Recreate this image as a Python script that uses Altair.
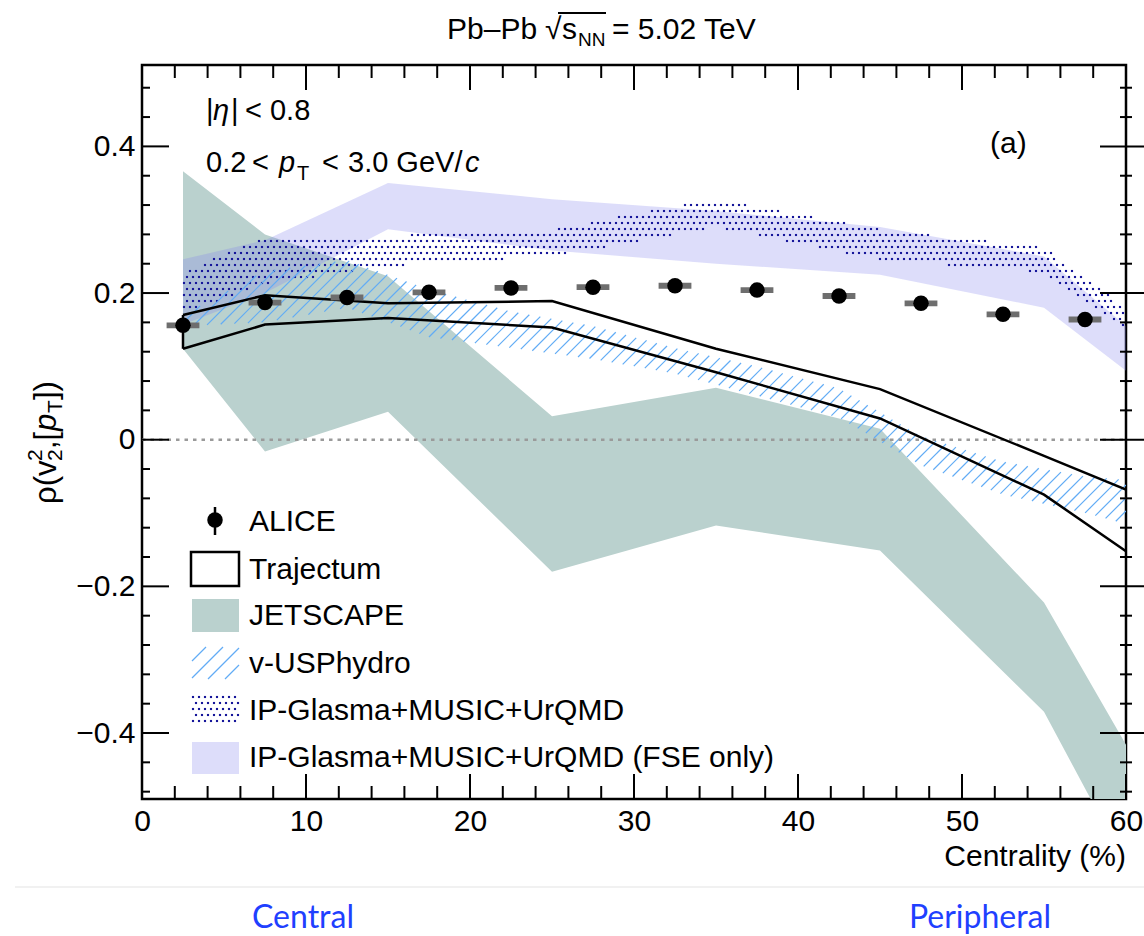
import altair as alt
import numpy as np
import pandas as pd

# ---------------- data ----------------
alice_cent = [2.5, 7.5, 12.5, 17.5, 22.5, 27.5, 32.5, 37.5, 42.5, 47.5, 52.5, 57.5]
alice_rho = [0.156, 0.187, 0.194, 0.201, 0.207, 0.208, 0.210, 0.204, 0.196, 0.186, 0.171, 0.164]
alice_stat = [0.005, 0.004, 0.004, 0.004, 0.004, 0.004, 0.004, 0.004, 0.004, 0.005, 0.005, 0.006]
alice_syst = [0.004, 0.004, 0.004, 0.004, 0.004, 0.004, 0.004, 0.004, 0.004, 0.004, 0.004, 0.004]

traj_x = [2.5, 7.5, 15, 25, 35, 45, 55, 60]
traj_hi = [0.170, 0.197, 0.186, 0.189, 0.124, 0.069, -0.022, -0.068]
traj_lo = [0.124, 0.157, 0.166, 0.153, 0.092, 0.029, -0.075, -0.152]

jet_x = [2.5, 7.5, 15, 25, 35, 45, 55, 60]
jet_hi = [0.366, 0.280, 0.223, 0.032, 0.071, 0.015, -0.222, -0.416]
jet_lo = [0.124, -0.016, 0.038, -0.180, -0.117, -0.151, -0.371, -0.580]

vus_x = [2.5, 7.5, 12.5, 17.5, 22.5, 27.5, 32.5, 37.5, 42.5, 47.5, 52.5, 57.5, 60]
vus_hi = [0.170, 0.230, 0.245, 0.205, 0.175, 0.155, 0.125, 0.100, 0.070, 0.005, -0.030, -0.050, -0.055]
vus_lo = [0.155, 0.160, 0.180, 0.140, 0.125, 0.110, 0.090, 0.060, 0.030, -0.035, -0.075, -0.100, -0.115]

ipg_x = [2.5, 7.5, 15, 25, 35, 45, 55, 60]
ipg_hi = [0.228, 0.278, 0.278, 0.287, 0.328, 0.287, 0.262, 0.180]
ipg_lo = [0.172, 0.212, 0.237, 0.250, 0.290, 0.245, 0.228, 0.148]

fse_x = [2.5, 7.5, 15, 25, 35, 45, 55, 60]
fse_hi = [0.246, 0.272, 0.350, 0.328, 0.312, 0.290, 0.250, 0.155]
fse_lo = [0.157, 0.200, 0.287, 0.258, 0.240, 0.225, 0.180, 0.094]

x_tick_labels = [0, 10, 20, 30, 40, 50, 60]
y_tick_labels = [-0.4, -0.2, 0, 0.2, 0.4]

legend_labels = ["ALICE", "Trajectum", "JETSCAPE", "v-USPhydro",
                 "IP-Glasma+MUSIC+UrQMD", "IP-Glasma+MUSIC+UrQMD (FSE only)"]

# ---------------- layout / style ----------------
FONT = "Liberation Sans"
FS = 30
W, H = 984, 734
OX, OY = 142, 65
XMIN, XMAX = 0.0, 60.0
YMIN, YMAX = -0.49, 0.511
KX = W / (XMAX - XMIN)
KY = H / (YMAX - YMIN)

GREEN = "#bad1ce"
LAV = "#8282ed"
NAVY = "#16169a"
HATCH = "#62acf5"


def px2x(px):
    return XMIN + np.asarray(px, float) / KX


def py2y(py):
    return YMAX - np.asarray(py, float) / KY


xs = alt.Scale(domain=[XMIN, XMAX], nice=False, zero=False)
ys = alt.Scale(domain=[YMIN, YMAX], nice=False, zero=False)
xaxis = alt.Axis(values=x_tick_labels, format="d", ticks=False, domain=False, grid=False,
                 labelFont=FONT, labelFontSize=FS, labelPadding=7, labelColor="black",
                 title=None, labelFlush=False)
yaxis = alt.Axis(values=y_tick_labels,
                 labelExpr="datum.value == 0 ? '0' : format(datum.value, '.1f')",
                 ticks=False, domain=False, grid=False, labelFont=FONT, labelFontSize=FS,
                 labelPadding=7, labelColor="black", title=None)


def X(f):
    return alt.X(f, type="quantitative", scale=xs, axis=xaxis)


def Y(f):
    return alt.Y(f, type="quantitative", scale=ys, axis=yaxis)


def band_df(x, lo, hi):
    return pd.DataFrame({"x": x, "lo": lo, "hi": hi})


def hatch_segments(x, lo, hi, spacing):
    x = np.asarray(x, float)
    xg = np.linspace(x[0], x[-1], 6000)
    lo_g = np.interp(xg, x, lo)
    hi_g = np.interp(xg, x, hi)
    segs = []
    for c in np.arange(0, W + H + spacing, spacing):
        yl = YMAX - (c - (xg - XMIN) * KX) / KY
        ins = (yl >= lo_g) & (yl <= hi_g) & (yl >= YMIN) & (yl <= YMAX)
        edges = np.flatnonzero(np.diff(np.concatenate([[0], ins.astype(int), [0]])))
        for s, e in zip(edges[::2], edges[1::2]):
            e = e - 1
            if e > s:
                segs.append((xg[s], yl[s], xg[e], yl[e]))
    return pd.DataFrame(segs, columns=["x1", "y1", "x2", "y2"])


def dot_grid(x, lo, hi, dx=6, dy=6):
    # dots centred on whole pixels so that 2x2 squares render crisply
    x = np.asarray(x, float)
    pts = []
    for i, py in enumerate(range(2, H, dy)):
        off = 3 if i % 2 else 0
        pxs = np.arange(off, W, dx)
        xd = px2x(pxs)
        yd = float(py2y(py))
        m = (xd >= x[0]) & (xd <= x[-1])
        xd = xd[m]
        l = np.interp(xd, x, lo)
        h = np.interp(xd, x, hi)
        k = (yd >= l) & (yd <= h)
        for v in xd[k]:
            pts.append((v, yd))
    return pd.DataFrame(pts, columns=["x", "y"])


one = pd.DataFrame({"a": [0]})


def txt(s, x, y, size=FS, italic=False, align="left", font=FONT, color="black",
        angle=0, baseline="alphabetic"):
    return alt.Chart(one).mark_text(
        align=align, baseline=baseline, font=font, fontSize=size,
        fontStyle="italic" if italic else "normal", color=color, angle=angle
    ).encode(x=alt.value(x - OX), y=alt.value(y - OY), text=alt.value(s))


layers = []

# JETSCAPE band
layers.append(alt.Chart(band_df(jet_x, jet_lo, jet_hi)).mark_area(
    color=GREEN, opacity=1, clip=True).encode(x=X("x"), y=Y("lo"), y2="hi"))
# FSE only band
layers.append(alt.Chart(band_df(fse_x, fse_lo, fse_hi)).mark_area(
    color=LAV, opacity=0.27, clip=True).encode(x=X("x"), y=Y("lo"), y2="hi"))
# IP-Glasma dotted band
layers.append(alt.Chart(dot_grid(ipg_x, ipg_lo, ipg_hi)).mark_square(
    size=4.5, color=NAVY, opacity=1, clip=True).encode(x=X("x"), y=Y("y")))
# v-USPhydro hatched band
layers.append(alt.Chart(hatch_segments(vus_x, vus_lo, vus_hi, 13)).mark_rule(
    color=HATCH, strokeWidth=1.2, clip=True).encode(x=X("x1"), y=Y("y1"), x2="x2", y2="y2"))

# zero line
layers.append(alt.Chart(pd.DataFrame({"y": [0.0]})).mark_rule(
    color="#9a9a9a", strokeWidth=2.5, strokeDash=[3.5, 5]).encode(
    y=Y("y"), x=alt.value(0), x2=alt.value(W)))

# Trajectum outline
tdf = pd.DataFrame({"x": traj_x, "lo": traj_lo, "hi": traj_hi})
layers.append(alt.Chart(tdf).mark_line(color="black", strokeWidth=2.5, clip=True).encode(
    x=X("x"), y=Y("hi")))
layers.append(alt.Chart(tdf).mark_line(color="black", strokeWidth=2.5, clip=True).encode(
    x=X("x"), y=Y("lo")))
layers.append(alt.Chart(tdf.iloc[[0]]).mark_rule(color="black", strokeWidth=2.5).encode(
    x=X("x"), y=Y("lo"), y2="hi"))

# ALICE data
adf = pd.DataFrame({"x": alice_cent, "y": alice_rho, "stat": alice_stat, "syst": alice_syst})
layers.append(alt.Chart(adf).transform_calculate(
    xa="datum.x - 1", xb="datum.x + 1", ya="datum.y - datum.syst", yb="datum.y + datum.syst"
).mark_rect(color="#6e6e6e").encode(x=X("xa:Q"), x2="xb:Q", y=Y("ya:Q"), y2="yb:Q"))
layers.append(alt.Chart(adf).transform_calculate(
    ya="datum.y - datum.stat", yb="datum.y + datum.stat"
).mark_rule(color="black", strokeWidth=2).encode(x=X("x"), y=Y("ya:Q"), y2="yb:Q"))
layers.append(alt.Chart(adf).mark_circle(size=240, color="black", opacity=1).encode(
    x=X("x"), y=Y("y")))

# ticks (inside, all four sides)
xt = np.arange(0, 61, 2)
xt_major = pd.DataFrame({"t": [v for v in xt if v % 10 == 0]})
xt_minor = pd.DataFrame({"t": [v for v in xt if v % 10 != 0]})
yt = np.round(np.arange(-0.48, 0.481, 0.04), 2)
yt_major = pd.DataFrame({"t": [v for v in yt if abs(round(v / 0.2) * 0.2 - v) < 1e-6]})
yt_minor = pd.DataFrame({"t": [v for v in yt if abs(round(v / 0.2) * 0.2 - v) >= 1e-6]})
TK = dict(color="black", strokeWidth=2)
for df, ln in ((xt_major, 25), (xt_minor, 13)):
    layers.append(alt.Chart(df).mark_rule(**TK).encode(x=X("t"), y=alt.value(H), y2=alt.value(H - ln)))
    layers.append(alt.Chart(df).mark_rule(**TK).encode(x=X("t"), y=alt.value(0), y2=alt.value(ln)))
for df, ln_in, ln_out_r, ln_in_r in ((yt_major, 27, 18, 26), (yt_minor, 8, 6, 6)):
    layers.append(alt.Chart(df).mark_rule(**TK).encode(y=Y("t"), x=alt.value(0), x2=alt.value(ln_in)))
    layers.append(alt.Chart(df).mark_rule(**TK).encode(y=Y("t"), x=alt.value(W - ln_in_r), x2=alt.value(W + ln_out_r)))

# ---------------- legend ----------------
LX0, LX1 = 49 + OX, 97 + OX  # swatch extents (page px)
layers.append(alt.Chart(one).mark_rule(color="black", strokeWidth=2.5).encode(
    x=alt.value(215 - OX), y=alt.value(507 - OY), y2=alt.value(535 - OY)))
layers.append(alt.Chart(one).mark_circle(size=240, color="black", opacity=1).encode(
    x=alt.value(215 - OX), y=alt.value(520 - OY)))
layers.append(alt.Chart(one).mark_rect(fill="white", fillOpacity=0, stroke="black", strokeWidth=2.5).encode(
    x=alt.value(LX0 - OX), x2=alt.value(LX1 - OX), y=alt.value(552 - OY), y2=alt.value(586 - OY)))
layers.append(alt.Chart(one).mark_rect(color=GREEN).encode(
    x=alt.value(LX0 + 1 - OX), x2=alt.value(LX1 - OX), y=alt.value(599 - OY), y2=alt.value(632 - OY)))
sw = hatch_segments([float(px2x(LX0 + 1 - OX)), float(px2x(LX1 - OX))],
                    [float(py2y(679 - OY))] * 2, [float(py2y(647 - OY))] * 2, 17)
layers.append(alt.Chart(sw).mark_rule(color=HATCH, strokeWidth=1.2).encode(
    x=X("x1"), y=Y("y1"), x2="x2", y2="y2"))
sd = dot_grid([float(px2x(LX0 + 1 - OX)), float(px2x(LX1 - OX))],
              [float(py2y(726 - OY))] * 2, [float(py2y(693 - OY))] * 2)
layers.append(alt.Chart(sd).mark_square(size=4.5, color=NAVY, opacity=1).encode(x=X("x"), y=Y("y")))
layers.append(alt.Chart(one).mark_rect(color=LAV, opacity=0.27).encode(
    x=alt.value(LX0 + 1 - OX), x2=alt.value(LX1 - OX), y=alt.value(742 - OY), y2=alt.value(774 - OY)))
for lab, yb in zip(legend_labels, [531, 579, 625, 673, 720, 767]):
    layers.append(txt(lab, 249, yb))

# ---------------- texts ----------------
layers.append(txt("Pb\u2013Pb", 447, 39, size=30))
layers.append(txt("\u221a", 545, 39, size=30))
layers.append(txt("s", 562, 39, size=30))
layers.append(txt("NN", 578, 46, size=19))
layers.append(txt("= 5.02 TeV", 612, 39, size=30))
layers.append(alt.Chart(one).mark_rule(color="black", strokeWidth=2).encode(
    x=alt.value(558 - OX), x2=alt.value(606 - OX), y=alt.value(13 - OY)))
layers.append(txt("|", 206, 120, size=29))
layers.append(txt("\u03b7", 213, 120, size=29, italic=True))
layers.append(txt("|", 231, 120, size=29))
layers.append(txt("< 0.8", 245, 120, size=29))
layers.append(txt("0.2", 206, 172, size=29))
layers.append(txt("<", 252, 172, size=29))
layers.append(txt("p", 279, 172, size=29, italic=True))
layers.append(txt("T", 297, 180, size=20))
layers.append(txt("<", 322, 172, size=29))
layers.append(txt("3.0 GeV/", 348, 172, size=29))
layers.append(txt("c", 465, 172, size=29, italic=True))
layers.append(txt("(a)", 990, 153))
layers.append(txt("Centrality (%)", 1126, 866, align="right"))
YB = 56
layers.append(txt("\u03c1(v", YB, 504, size=31, angle=270))
layers.append(txt("2", YB - 14, 461, size=21, angle=270))
layers.append(txt("2", YB + 6, 461, size=21, angle=270))
layers.append(txt(",[", YB, 449, size=31, angle=270))
layers.append(txt("p", YB, 431, size=31, italic=True, angle=270))
layers.append(txt("T", YB + 6, 413, size=21, angle=270))
layers.append(txt("])", YB, 400, size=31, angle=270))
layers.append(alt.Chart(one).mark_rule(color="#ececec", strokeWidth=1.5).encode(
    x=alt.value(15 - OX), x2=alt.value(1144 - OX), y=alt.value(887 - OY)))
layers.append(txt("Central", 303, 928, size=32, align="center", font="Lato", color="#1f40ff"))
layers.append(txt("Peripheral", 980, 928, size=32, align="center", font="Lato", color="#1f40ff"))

chart = alt.layer(*layers).properties(
    width=W, height=H,
    padding={"left": OX, "top": OY, "right": 1144 - OX - W, "bottom": 936 - OY - H},
    autosize=alt.AutoSizeParams(type="none"),
    background="white",
).configure_view(stroke="black", strokeWidth=2.5)

chart.save("out.html", embed_options={"renderer": "svg", "actions": False})
